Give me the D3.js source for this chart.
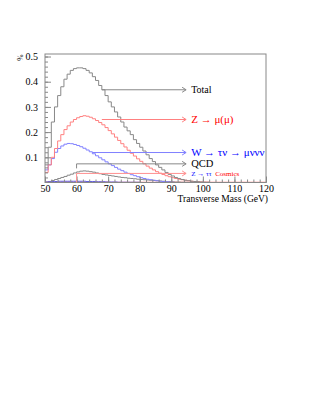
<!DOCTYPE html>
<html>
<head>
<meta charset="utf-8">
<script src="https://cdn.jsdelivr.net/npm/d3@7"></script>
<style>
  body { margin: 0; background: #fff; }
  text { font-family: "Liberation Serif", "DejaVu Serif", serif; }
</style>
</head>
<body>
<div id="chart-region"></div>
<script>
const WIDTH = 321, HEIGHT = 415;
const MARGIN = {LEFT: 45, RIGHT: 55, TOP: 54, BOTTOM: 232.5};

// 1 GeV bins, 50 -> 120
const binEdges = d3.range(50, 121, 1);
const totalValues = [0.07, 0.14, 0.24, 0.30, 0.345, 0.38, 0.41, 0.43, 0.445, 0.452,
  0.455, 0.455, 0.452, 0.445, 0.435, 0.42, 0.405, 0.385, 0.368, 0.345,
  0.32, 0.30, 0.28, 0.26, 0.24, 0.22, 0.205, 0.19, 0.17, 0.155,
  0.14, 0.125, 0.11, 0.095, 0.083, 0.07, 0.06, 0.05, 0.04, 0.032,
  0.026, 0.02, 0.016, 0.012, 0.009, 0.007, 0.005, 0.004, 0.003, 0.002,
  0.001, 0.001, 0, 0, 0, 0, 0, 0, 0, 0, 0, 0, 0, 0, 0, 0, 0, 0, 0, 0];
const zmumuValues = [0.04, 0.07, 0.10, 0.135, 0.165, 0.19, 0.21, 0.225, 0.24, 0.25,
  0.257, 0.262, 0.265, 0.263, 0.259, 0.253, 0.246, 0.238, 0.229, 0.218,
  0.206, 0.193, 0.18, 0.167, 0.154, 0.141, 0.128, 0.116, 0.105, 0.094,
  0.084, 0.074, 0.065, 0.057, 0.05, 0.043, 0.037, 0.032, 0.027, 0.023,
  0.019, 0.016, 0.013, 0.011, 0.009, 0.007, 0.005, 0.004, 0.003, 0.002,
  0.0015, 0.001, 0, 0, 0, 0, 0, 0, 0, 0, 0, 0, 0, 0, 0, 0, 0, 0, 0, 0];
const wtaunuValues = [0.05, 0.07, 0.095, 0.12, 0.135, 0.145, 0.152, 0.155, 0.154, 0.151,
  0.147, 0.142, 0.136, 0.129, 0.122, 0.114, 0.106, 0.098, 0.09, 0.082,
  0.074, 0.067, 0.06, 0.053, 0.047, 0.041, 0.036, 0.031, 0.027, 0.023,
  0.019, 0.016, 0.013, 0.011, 0.009, 0.007, 0.005, 0.004, 0.003, 0.002,
  0.001, 0, 0, 0, 0, 0, 0, 0, 0, 0, 0, 0, 0, 0, 0, 0, 0, 0, 0, 0, 0, 0, 0, 0, 0, 0, 0, 0, 0, 0];
const qcdValues = [0.001, 0.004, 0.008, 0.012, 0.016, 0.02, 0.024, 0.029, 0.033, 0.038,
  0.042, 0.045, 0.046, 0.045, 0.043, 0.041, 0.038, 0.035, 0.032, 0.03,
  0.028, 0.026, 0.024, 0.022, 0.02, 0.019, 0.017, 0.016, 0.015, 0.013,
  0.012, 0.011, 0.01, 0.009, 0.008, 0.007, 0.006, 0.005, 0.004, 0.004,
  0.003, 0.002, 0.002, 0.001, 0.001, 0, 0, 0, 0, 0, 0, 0, 0, 0, 0, 0, 0, 0, 0, 0, 0, 0, 0, 0, 0, 0, 0, 0, 0, 0];
const zttValues = [0.002, 0.003, 0.004, 0.004, 0.005, 0.005, 0.005, 0.005, 0.005, 0.005,
  0.005, 0.005, 0.005, 0.004, 0.004, 0.004, 0.003, 0.003, 0.003, 0.002,
  0.002, 0.002, 0.002, 0.001, 0.001, 0.001, 0.001, 0.001, 0.001, 0.001,
  0, 0, 0, 0, 0, 0, 0, 0, 0, 0, 0, 0, 0, 0, 0, 0, 0, 0, 0, 0, 0, 0, 0, 0, 0, 0, 0, 0, 0, 0, 0, 0, 0, 0, 0, 0, 0, 0, 0, 0];
const cosmicsValues = [0.002, 0.002, 0.002, 0.002, 0.002, 0.002, 0.002, 0.002, 0.002, 0.002,
  0.002, 0.002, 0.002, 0.002, 0.002, 0.002, 0.002, 0.002, 0.002, 0.002,
  0.001, 0.001, 0.001, 0.001, 0.001, 0.001, 0.001, 0.001, 0.001, 0.001,
  0.001, 0.001, 0.001, 0.001, 0.001, 0.001, 0.001, 0.001, 0.001, 0.001,
  0.001, 0.001, 0.001, 0.001, 0.001, 0.001, 0.001, 0.001, 0.001, 0.001,
  0.001, 0.001, 0.001, 0.001, 0.001, 0.001, 0.001, 0.001, 0.001, 0.001,
  0.001, 0.001, 0.001, 0.001, 0.001, 0.001, 0.001, 0.001, 0.001, 0.001];

const xTickValues = [50, 60, 70, 80, 90, 100, 110, 120];
const yTickValues = [0.1, 0.2, 0.3, 0.4, 0.5];

// annotations: label, arrow start (GeV, value)
const annLabels = ["Total", "Z \u2192 \u03bc(\u03bc)", "W \u2192 \u03c4\u03bd \u2192 \u03bc\u03bd\u03bd\u03bd", "QCD"];
const annStartX = [68, 68, 65, 60];
const annStartY = [0.368, 0.25, 0.119, 0.074];

const series = [
  {vals: qcdValues, color: "#888"},
  {vals: cosmicsValues, color: "#ff8080"},
  {vals: zttValues, color: "#6060e0"},
  {vals: wtaunuValues, color: "#8080ff"},
  {vals: zmumuValues, color: "#ff8080"},
  {vals: totalValues, color: "#888"}
];

const svg = d3.select("#chart-region").append("svg")
  .attr("width", WIDTH).attr("height", HEIGHT);
svg.append("rect").attr("width", WIDTH).attr("height", HEIGHT).attr("fill", "#fff");

const x = d3.scaleLinear().domain([50, 120]).range([MARGIN.LEFT, WIDTH - MARGIN.RIGHT]);
const y = d3.scaleLinear().domain([0, 0.51]).range([HEIGHT - MARGIN.BOTTOM, MARGIN.TOP]);

// histograms
const step = d3.line().x(d => x(d[0])).y(d => y(d[1])).curve(d3.curveStepAfter);
series.forEach(s => {
  const pts = s.vals.map((v, i) => [binEdges[i], v]);
  pts.push([120, s.vals[s.vals.length - 1]]);
  svg.append("path")
    .attr("d", step(pts))
    .attr("fill", "none")
    .attr("stroke", s.color)
    .attr("stroke-width", 1);
});

// frame
svg.append("rect")
  .attr("x", x(50)).attr("y", MARGIN.TOP)
  .attr("width", x(120) - x(50)).attr("height", y(0) - MARGIN.TOP)
  .attr("fill", "none").attr("stroke", "#888").attr("stroke-width", 1);

// x axis (ticks inside)
svg.append("g")
  .attr("transform", `translate(0, ${y(0)})`)
  .call(d3.axisBottom(x).tickValues(d3.range(50, 121, 2)).tickSize(-3).tickFormat(""))
  .call(g => g.select(".domain").remove())
  .call(g => g.selectAll("line").attr("stroke", "#888"));
svg.append("g")
  .attr("transform", `translate(0, ${y(0)})`)
  .call(d3.axisBottom(x).tickValues(xTickValues).tickSize(-6).tickPadding(2))
  .call(g => g.select(".domain").remove())
  .call(g => g.selectAll("line").attr("stroke", "#888"))
  .call(g => g.selectAll("text").attr("font-size", "10px").attr("fill", "#000")
    .attr("font-family", "Liberation Serif, serif"));

// y axis
svg.append("g")
  .attr("transform", `translate(${x(50)}, 0)`)
  .call(d3.axisLeft(y).tickValues(d3.range(0.02, 0.51, 0.02)).tickSize(-3).tickFormat(""))
  .call(g => g.select(".domain").remove())
  .call(g => g.selectAll("line").attr("stroke", "#888"));
svg.append("g")
  .attr("transform", `translate(${x(50)}, 0)`)
  .call(d3.axisLeft(y).tickValues(yTickValues).tickSize(-6).tickPadding(7).tickFormat(d3.format(".1f")))
  .call(g => g.select(".domain").remove())
  .call(g => g.selectAll("line").attr("stroke", "#888"))
  .call(g => g.selectAll("text").attr("font-size", "10px").attr("fill", "#000")
    .attr("font-family", "Liberation Serif, serif"));

// axis titles
svg.append("text")
  .attr("x", x(120) + 2).attr("y", y(0) + 19)
  .attr("text-anchor", "end")
  .attr("font-size", "9.5px")
  .text("Transverse Mass (GeV)");
svg.append("text")
  .attr("transform", `translate(23, ${y(0.5) + 1}) rotate(-90)`)
  .attr("text-anchor", "middle")
  .attr("font-size", "7.5px")
  .text("%");

// annotation arrows
const arrowEnd = 94.7, textX = 96.3;
function arrow(x0, v0, color, drop) {
  const px = x(x0), py = y(v0), ex = x(arrowEnd);
  const g = svg.append("g").attr("stroke", color).attr("fill", "none").attr("stroke-width", 1);
  if (drop !== undefined) g.append("line").attr("x1", px).attr("x2", px).attr("y1", py).attr("y2", y(drop));
  g.append("line").attr("x1", px).attr("x2", ex).attr("y1", py).attr("y2", py);
  g.append("path").attr("d", `M${ex - 4},${py - 2.5}L${ex},${py}L${ex - 4},${py + 2.5}`);
}
const annColors = ["#888", "#ff8080", "#8080ff", "#888"];
const textColors = ["#000", "#ff0000", "#0000ff", "#000"];
const fontSizes = ["10px", "11px", "11px", "10.5px"];
const drops = [undefined, undefined, undefined, 0.056];
annLabels.forEach((lab, i) => {
  arrow(annStartX[i], annStartY[i], annColors[i], drops[i]);
  svg.append("text")
    .attr("x", x(textX)).attr("y", y(annStartY[i]))
    .attr("dy", "0.33em")
    .attr("font-size", fontSizes[i])
    .attr("fill", textColors[i])
    .text(lab);
});

// Z->tautau / cosmics arrow from the bottom at 60 GeV
arrow(60, 0.036, "#ff9090", 0);
svg.append("text")
  .attr("x", x(textX)).attr("y", y(0.036)).attr("dy", "0.35em")
  .attr("font-size", "7px").attr("fill", "#0000ff")
  .text("Z \u2192 \u03c4\u03c4");
svg.append("text")
  .attr("x", x(103.9)).attr("y", y(0.036)).attr("dy", "0.35em")
  .attr("font-size", "7px").attr("fill", "#ff0000")
  .text("Cosmics");
</script>
</body>
</html>
